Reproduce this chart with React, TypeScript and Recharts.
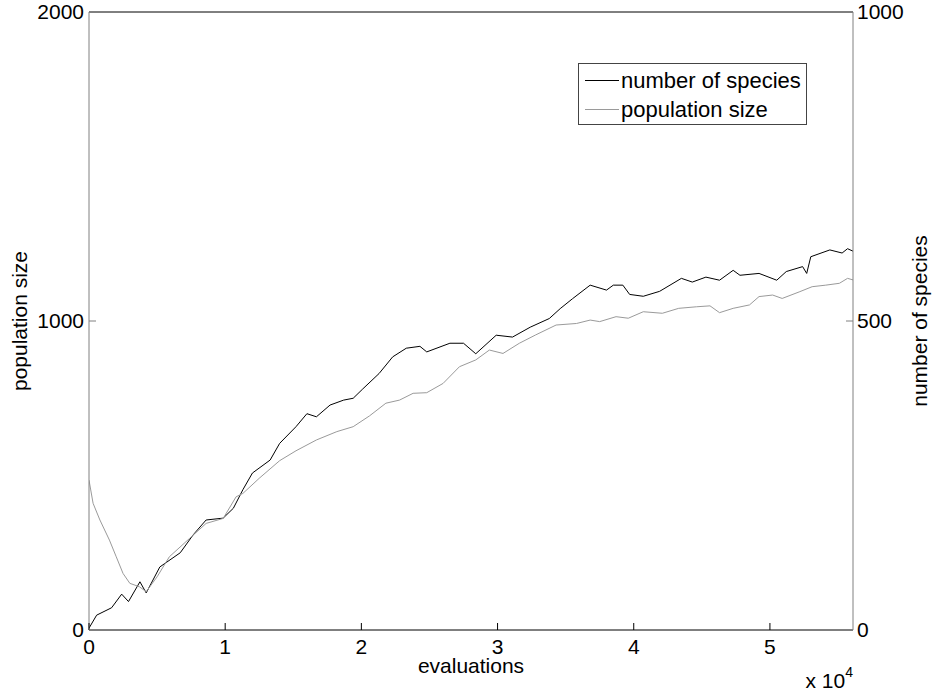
import React from "react";
import { LineChart, Line, XAxis, YAxis, Legend, ReferenceLine } from "recharts";

// number of species (right axis)
const speciesEvals = [
  0, 560, 1660, 2400, 2900, 3740, 4200, 5200, 6700, 7650, 8600, 9850, 10600, 11300, 12000,
  13300, 14000, 15200, 16000, 16700, 17700, 18700, 19400, 20100, 21300, 22300, 23300, 24300,
  24800, 26500, 27500, 28400, 29900, 31100, 32400, 33800, 34600, 35500, 36800, 38000, 38500,
  39200, 39700, 40700, 41900, 43500, 44300, 45300, 46300, 47300, 47800, 49200, 50500, 51200,
  52400, 52700, 53000, 54400, 55300, 55700, 56100,
];
const speciesCount = [
  3, 24, 36, 58, 46, 78, 60, 102, 125, 154, 178, 181, 197, 227, 254,
  275, 302, 329, 350, 345, 364, 372, 375, 390, 415, 442, 456, 459,
  450, 464, 464, 447, 477, 474, 490, 504, 520, 536, 558, 550, 558,
  558, 543, 540, 548, 569, 563, 571, 566, 582, 574, 577, 566, 580,
  588, 577, 604, 615, 610, 617, 613,
];

// population size (left axis)
const popEvals = [
  0, 300, 800, 1500, 2000, 2500, 3000, 3700, 4200, 5000, 5900, 7400, 8600, 9850, 10800,
  11300, 12500, 14000, 15200, 16700, 18200, 19400, 20600, 21800, 22800, 23800, 24800, 26000,
  27200, 28400, 29400, 30400, 31600, 32800, 34300, 35800, 36800, 37500, 38700, 39600, 40700,
  42100, 43300, 44600, 45600, 46300, 47300, 48500, 49200, 50200, 50900, 52200, 53100, 54100,
  55100, 55700, 56100,
];
const popSize = [
  485, 410, 356, 291, 237, 183, 151, 140, 124, 172, 237, 297, 345, 361, 431,
  442, 491, 548, 580, 615, 642, 658, 693, 734, 744, 766, 768, 798,
  852, 874, 906, 895, 928, 955, 987, 992, 1003, 998, 1014, 1009, 1030,
  1025, 1041, 1046, 1049, 1027, 1041, 1052, 1079, 1084, 1073, 1095, 1111, 1116,
  1122, 1138, 1133,
];

const xTicks = [0, 10000, 20000, 30000, 40000, 50000];
const leftTicks = [0, 1000, 2000];
const rightTicks = [0, 500, 1000];

const species = speciesEvals.map((x, i) => ({ x, species: speciesCount[i] }));
const population = popEvals.map((x, i) => ({ x, population: popSize[i] }));

const FONT = "'Liberation Sans', Arial, sans-serif";
const TICK_IN = 7;
const AXIS_GRAY = "#808080";

function BottomTick({ x, y, payload }: any) {
  const axisY = y - 9;
  return (
    <g>
      <line x1={x} x2={x} y1={axisY} y2={axisY - TICK_IN} stroke="#000" />
      <text x={x} y={y} dy="0.71em" textAnchor="middle" fontSize={21} fill="#000">
        {payload.value / 10000}
      </text>
    </g>
  );
}

function LeftTick({ x, y, payload }: any) {
  const axisX = x + 5;
  return (
    <g>
      <line x1={axisX} x2={axisX + TICK_IN} y1={y} y2={y} stroke={AXIS_GRAY} />
      <text x={x} y={y} dy="0.355em" textAnchor="end" fontSize={21} fill="#000">
        {payload.value}
      </text>
    </g>
  );
}

function RightTick({ x, y, payload }: any) {
  const axisX = x - 4;
  return (
    <g>
      <line x1={axisX} x2={axisX - TICK_IN} y1={y} y2={y} stroke={AXIS_GRAY} />
      <text x={x} y={y} dy="0.355em" textAnchor="start" fontSize={21} fill="#000">
        {payload.value}
      </text>
    </g>
  );
}

function XTitle({ viewBox }: any) {
  const { x, y, width } = viewBox;
  return (
    <g>
      <text x={x + width / 2} y={y + 43} textAnchor="middle" fontSize={21} fill="#000">
        evaluations
      </text>
      <text x={x + width} y={y + 58} textAnchor="end" fontSize={21} fill="#000">
        x 10
        <tspan fontSize={14} dy={-11}>4</tspan>
      </text>
    </g>
  );
}

function LeftTitle({ viewBox }: any) {
  const { x, y, height } = viewBox;
  const cx = x + 20;
  const cy = y + height / 2;
  return (
    <text x={cx} y={cy} dy="0.355em" textAnchor="middle" fontSize={21} fill="#000"
      transform={`rotate(-90 ${cx} ${cy})`}>
      population size
    </text>
  );
}

function RightTitle({ viewBox }: any) {
  const { x, y, height } = viewBox;
  const cx = x + 67;
  const cy = y + height / 2;
  return (
    <text x={cx} y={cy} dy="0.355em" textAnchor="middle" fontSize={21} fill="#000"
      transform={`rotate(-90 ${cx} ${cy})`}>
      number of species
    </text>
  );
}

function LegendBox({ payload }: any) {
  return (
    <div
      style={{
        border: "1px solid #444",
        background: "#fff",
        boxSizing: "border-box",
        width: 229,
        height: 62,
        paddingTop: 2,
        fontFamily: FONT,
        fontSize: 22,
        color: "#000",
      }}
    >
      {(payload || []).map((p: any) => (
        <div key={p.value} style={{ display: "flex", alignItems: "center", height: 29 }}>
          <div style={{ width: 34, marginLeft: 6, marginRight: 2, borderTop: `1px solid ${p.color}` }} />
          <span style={{ lineHeight: "29px" }}>{p.value}</span>
        </div>
      ))}
    </div>
  );
}

export default function App() {
  return (
    <div style={{ position: "absolute", left: 0, top: 0, background: "#fff", fontFamily: FONT }}>
      <LineChart width={932} height={692} margin={{ top: 12, right: 0, bottom: 0, left: 0 }}>
        <XAxis
          type="number"
          dataKey="x"
          domain={[0, 56100]}
          ticks={xTicks}
          allowDataOverflow
          height={62}
          tickSize={0}
          tickMargin={9}
          tickLine={false}
          axisLine={{ stroke: "#000" }}
          tick={<BottomTick />}
          label={<XTitle />}
        />
        <YAxis
          yAxisId="left"
          orientation="left"
          domain={[0, 2000]}
          ticks={leftTicks}
          width={89}
          tickSize={0}
          tickMargin={5}
          tickLine={false}
          axisLine={{ stroke: AXIS_GRAY }}
          tick={<LeftTick />}
          label={<LeftTitle />}
        />
        <YAxis
          yAxisId="right"
          orientation="right"
          domain={[0, 1000]}
          ticks={rightTicks}
          width={79}
          tickSize={0}
          tickMargin={4}
          tickLine={false}
          axisLine={{ stroke: AXIS_GRAY }}
          tick={<RightTick />}
          label={<RightTitle />}
        />
        <ReferenceLine yAxisId="left" y={2000} stroke="#000" />
        <Legend
          layout="horizontal"
          verticalAlign="middle"
          align="center"
          content={<LegendBox />}
          wrapperStyle={{ position: "absolute", left: 578, top: 63, width: 229, height: 62 }}
        />
        <Line
          yAxisId="right"
          data={species}
          dataKey="species"
          name="number of species"
          stroke="#000"
          strokeWidth={1}
          dot={false}
          isAnimationActive={false}
        />
        <Line
          yAxisId="left"
          data={population}
          dataKey="population"
          name="population size"
          stroke="#9a9a9a"
          strokeWidth={1}
          dot={false}
          isAnimationActive={false}
        />
      </LineChart>
    </div>
  );
}
